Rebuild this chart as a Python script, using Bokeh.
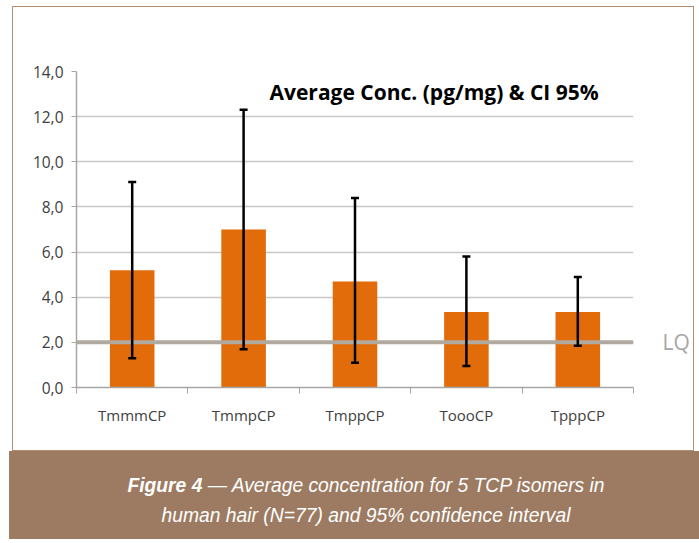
from bokeh.plotting import figure
from bokeh.models import (ColumnDataSource, Whisker, TeeHead, Span, Label,
                          FixedTicker, Div, Range1d, LinearAxis)
from bokeh.layouts import column
from bokeh.embed import file_html
from bokeh.resources import INLINE

# ---- data ----
categories = ["TmmmCP", "TmmpCP", "TmppCP", "ToooCP", "TpppCP"]
mean_conc = [5.2, 7.0, 4.7, 3.35, 3.35]
ci_upper = [9.1, 12.3, 8.4, 5.8, 4.9]
ci_lower = [1.3, 1.7, 1.1, 0.95, 1.85]
lq_value = 2.0
lq_label = "LQ"
y_ticks = [0, 2, 4, 6, 8, 10, 12, 14]
title_text = "Average Conc. (pg/mg) & CI 95%"
caption_bold = "Figure 4"
caption_rest = "— Average concentration for 5 TCP isomers in"
caption_line2 = "human hair (N=77) and 95% confidence interval"

n = len(categories)
centers = [i + 0.5 for i in range(n)]

src = ColumnDataSource(dict(x=centers, top=mean_conc, upper=ci_upper,
                            lower=ci_lower, cat=categories))

p = figure(width=680, height=443, output_backend="svg", toolbar_location=None,
           x_range=Range1d(0, n), y_range=Range1d(0, 14),
           min_border_left=63, min_border_right=60, min_border_top=64,
           min_border_bottom=63)
p.margin = 0
p.outline_line_color = None
p.background_fill_color = "white"
p.border_fill_color = "white"

FONT = "Open Sans"

# bars
p.vbar(x="x", top="top", width=0.4, bottom=0, source=src,
       fill_color="#e26b0a", line_color=None)

# LQ line
lq = Span(location=lq_value, dimension="width", line_color="#b0a99f",
          line_width=4, level="overlay")
p.add_layout(lq)

# error bars
w = Whisker(base="x", upper="upper", lower="lower", source=src,
            line_color="black", line_width=2.5, level="overlay",
            upper_head=TeeHead(size=8, line_width=2.5, line_color="black"),
            lower_head=TeeHead(size=8, line_width=2.5, line_color="black"))
p.add_layout(w)

# axes
p.xaxis.ticker = FixedTicker(ticks=centers, minor_ticks=list(range(n + 1)))
p.xaxis.major_label_overrides = {c: lab for c, lab in zip(centers, categories)}
p.xaxis.major_tick_out = 0
p.xaxis.major_tick_in = 0
p.xaxis.minor_tick_out = 6
p.xaxis.minor_tick_in = 0
p.xaxis.minor_tick_line_color = "#a6a6a6"
p.xaxis.axis_line_color = "#a6a6a6"
p.xaxis.axis_line_width = 1.5
p.xaxis.major_label_text_font = FONT
p.xaxis.major_label_text_font_size = "15px"
p.xaxis.major_label_text_color = "#404040"
p.xaxis.major_label_standoff = 11

p.yaxis.ticker = FixedTicker(ticks=y_ticks)
p.yaxis.major_label_overrides = {t: f"{t:.1f}".replace(".", ",") for t in y_ticks}
p.yaxis.major_tick_out = 5
p.yaxis.major_tick_in = 0
p.yaxis.minor_tick_out = 0
p.yaxis.minor_tick_in = 0
p.yaxis.major_tick_line_color = "#a6a6a6"
p.yaxis.axis_line_color = "#a6a6a6"
p.yaxis.axis_line_width = 1.5
p.yaxis.major_label_text_font = FONT
p.yaxis.major_label_text_font_size = "15.5px"
p.yaxis.major_label_text_color = "#404040"
p.yaxis.major_label_standoff = 8

# right axis carrying the LQ label
ra = LinearAxis(ticker=FixedTicker(ticks=[lq_value]),
                major_label_overrides={lq_value: lq_label})
ra.axis_line_color = None
ra.major_tick_line_color = None
ra.minor_tick_line_color = None
ra.major_label_standoff = 23
ra.major_label_text_font = FONT
ra.major_label_text_font_size = "21px"
ra.major_label_text_color = "#a6a6a6"
p.add_layout(ra, "right")

p.xgrid.grid_line_color = None
p.ygrid.grid_line_color = "#c8c8c8"
p.ygrid.grid_line_width = 1.5
p.ygrid.ticker = FixedTicker(ticks=y_ticks[1:])

# title inside plot
t = Label(x=n * 0.642, y=13.07, text=title_text, text_align="center",
          text_baseline="middle", text_font=FONT, text_font_style="bold",
          text_font_size="21px", text_color="black")
p.add_layout(t)

box = column(p, spacing=0, margin=(6, 0, 0, 12),
             styles={"border": "1.5px solid #b58d6e", "box-sizing": "content-box",
                     "width": "680px", "height": "443px"})

caption = Div(
    text=(f'<div style="width:690px;box-sizing:border-box;padding-top:20px;padding-left:24px;'
          f'line-height:30px;text-align:center;'
          f'font-family:\'Liberation Sans\';font-style:italic;font-size:19.3px;color:white;">'
          f'<b>{caption_bold}</b> {caption_rest}<br>{caption_line2}</div>'),
    width=690, height=88, margin=(0, 0, 0, 9),
    styles={"background-color": "#9c7b62"})

layout = column(box, caption, spacing=0)

open("out.html", "w").write(file_html(layout, INLINE))
